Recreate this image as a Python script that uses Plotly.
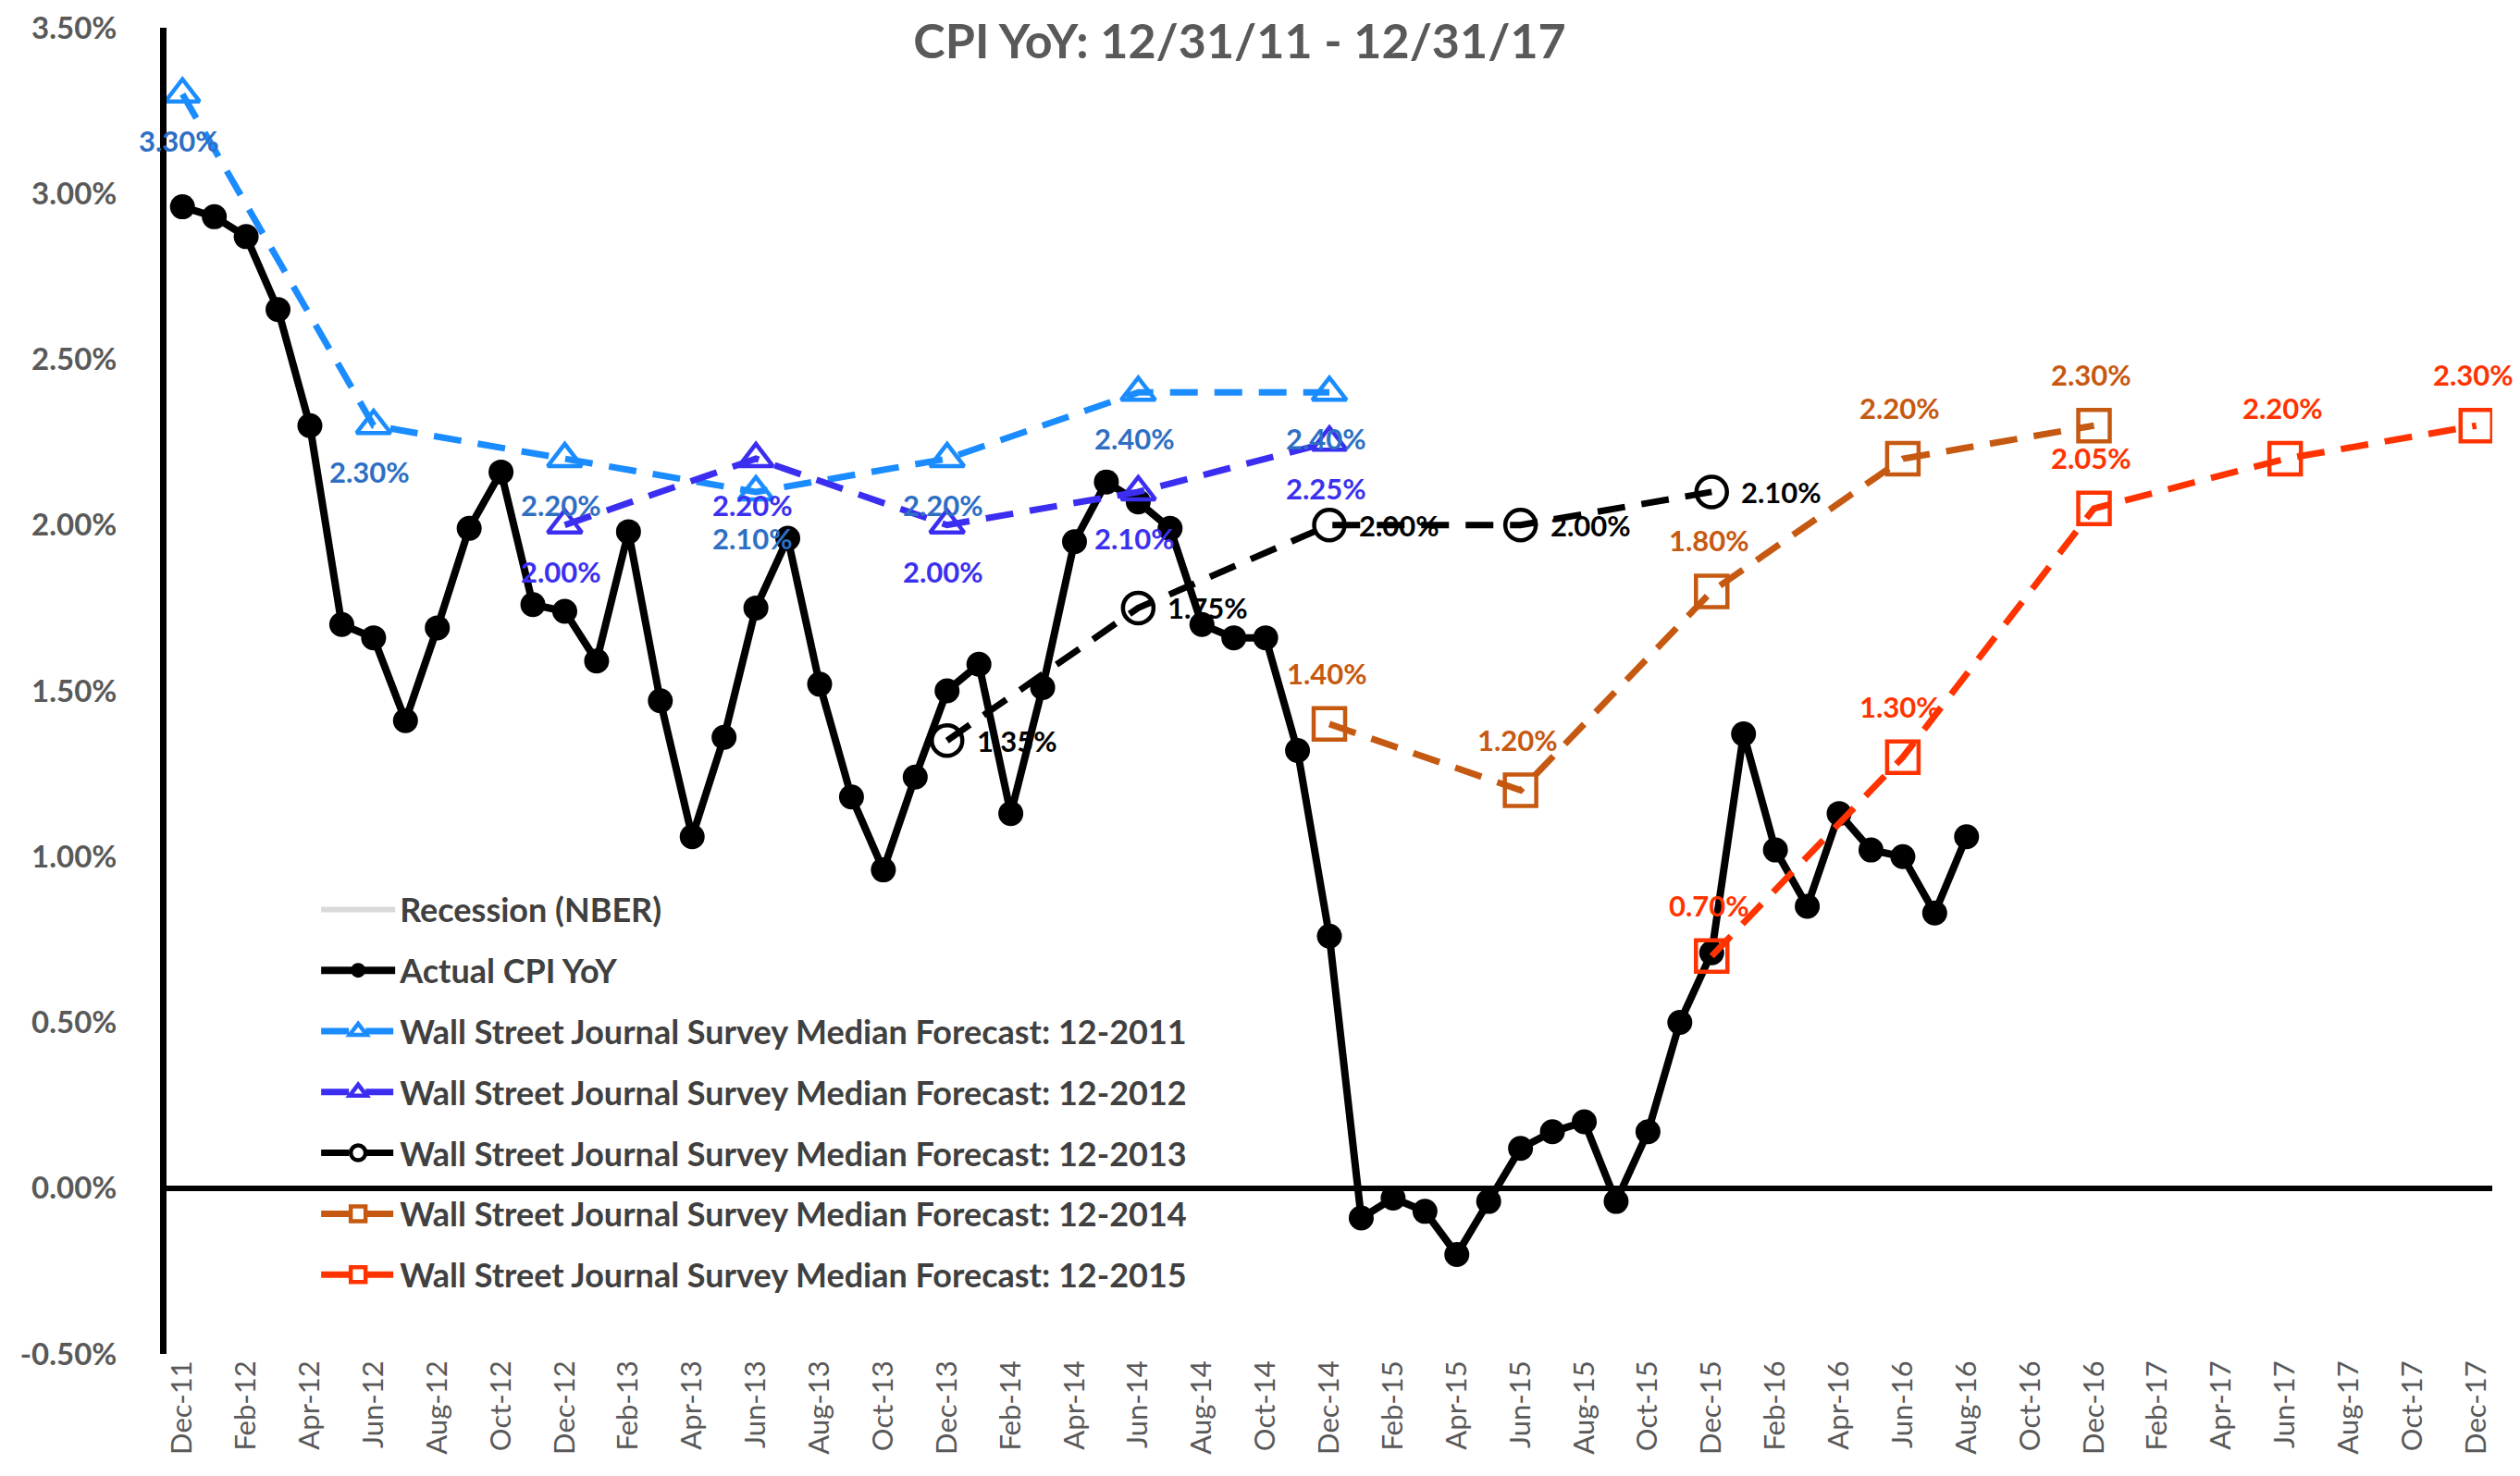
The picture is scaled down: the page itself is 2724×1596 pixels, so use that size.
import plotly.graph_objects as go

months = [
    "Dec-11",
    "Jan-12", "Feb-12", "Mar-12", "Apr-12", "May-12", "Jun-12",
    "Jul-12", "Aug-12", "Sep-12", "Oct-12", "Nov-12", "Dec-12",
    "Jan-13", "Feb-13", "Mar-13", "Apr-13", "May-13", "Jun-13",
    "Jul-13", "Aug-13", "Sep-13", "Oct-13", "Nov-13", "Dec-13",
    "Jan-14", "Feb-14", "Mar-14", "Apr-14", "May-14", "Jun-14",
    "Jul-14", "Aug-14", "Sep-14", "Oct-14", "Nov-14", "Dec-14",
    "Jan-15", "Feb-15", "Mar-15", "Apr-15", "May-15", "Jun-15",
    "Jul-15", "Aug-15", "Sep-15", "Oct-15", "Nov-15", "Dec-15",
    "Jan-16", "Feb-16", "Mar-16", "Apr-16", "May-16", "Jun-16",
    "Jul-16", "Aug-16", "Sep-16", "Oct-16", "Nov-16", "Dec-16",
    "Jan-17", "Feb-17", "Mar-17", "Apr-17", "May-17", "Jun-17",
    "Jul-17", "Aug-17", "Sep-17", "Oct-17", "Nov-17", "Dec-17",
]

# actual CPI YoY, Dec-11 .. Aug-16 (percent)
actual_cpi = [
    2.96,
    2.93, 2.87, 2.65, 2.30, 1.70, 1.66, 1.41, 1.69, 1.99, 2.16, 1.76, 1.74,
    1.59, 1.98, 1.47, 1.06, 1.36, 1.75, 1.96, 1.52, 1.18, 0.96, 1.24, 1.50,
    1.58, 1.13, 1.51, 1.95, 2.13, 2.07, 1.99, 1.70, 1.66, 1.66, 1.32, 0.76,
    -0.09, -0.03, -0.07, -0.20, -0.04, 0.12, 0.17, 0.20, -0.04, 0.17, 0.50, 0.71,
    1.37, 1.02, 0.85, 1.13, 1.02, 1.00, 0.83, 1.06,
]

wsj_2011_x = ["Dec-11", "Jun-12", "Dec-12", "Jun-13", "Dec-13", "Jun-14", "Dec-14"]
wsj_2011_y = [3.30, 2.30, 2.20, 2.10, 2.20, 2.40, 2.40]

wsj_2012_x = ["Dec-12", "Jun-13", "Dec-13", "Jun-14", "Dec-14"]
wsj_2012_y = [2.00, 2.20, 2.00, 2.10, 2.25]

wsj_2013_x = ["Dec-13", "Jun-14", "Dec-14", "Jun-15", "Dec-15"]
wsj_2013_y = [1.35, 1.75, 2.00, 2.00, 2.10]

wsj_2014_x = ["Dec-14", "Jun-15", "Dec-15", "Jun-16", "Dec-16"]
wsj_2014_y = [1.40, 1.20, 1.80, 2.20, 2.30]

wsj_2015_x = ["Dec-15", "Jun-16", "Dec-16", "Jun-17", "Dec-17"]
wsj_2015_y = [0.70, 1.30, 2.05, 2.20, 2.30]

y_ticks = [-0.5, 0.0, 0.5, 1.0, 1.5, 2.0, 2.5, 3.0, 3.5]

GRAY = "#595959"
FONT = "Lato"


def pct(vals):
    return ["%.2f%%" % v for v in vals]


fig = go.Figure()

# no recession in the window, only the legend entry
fig.add_trace(go.Scatter(
    x=[None], y=[None], name="Recession (NBER)", mode="none",
    fill="toself", fillcolor="#D9D9D9", legendgroup="g0",
))

fig.add_trace(go.Scatter(
    x=months[:len(actual_cpi)], y=actual_cpi, name="Actual CPI YoY",
    mode="lines+markers", legendgroup="g1",
    line=dict(color="black", width=8),
    marker=dict(symbol="circle", size=27, color="black"),
))

# name, x, y, line colour, label colour, symbol, size, label placement
forecasts = [
    ("Wall Street Journal Survey Median Forecast: 12-2011", wsj_2011_x, wsj_2011_y,
     "#1A8CFF", "#2E6FC4", "triangle-up-open", 32, "below"),
    ("Wall Street Journal Survey Median Forecast: 12-2012", wsj_2012_x, wsj_2012_y,
     "#3B2EF0", "#3B30F0", "triangle-up-open", 32, "below"),
    ("Wall Street Journal Survey Median Forecast: 12-2013", wsj_2013_x, wsj_2013_y,
     "black", "black", "circle-open", 33, "right"),
    ("Wall Street Journal Survey Median Forecast: 12-2014", wsj_2014_x, wsj_2014_y,
     "#C65911", "#C65911", "square-open", 34, "above"),
    ("Wall Street Journal Survey Median Forecast: 12-2015", wsj_2015_x, wsj_2015_y,
     "#FF3300", "#FF3300", "square-open", 34, "above"),
]

for i, (name, xs, ys, col, tcol, sym, msize, where) in enumerate(forecasts):
    fig.add_trace(go.Scatter(
        x=xs, y=ys, name=name, mode="lines+markers",
        legendgroup="g%d" % (i + 2),
        line=dict(color=col, width=7, dash="30px,18px"),
        marker=dict(symbol=sym, size=msize, color=col, line=dict(width=4.5, color=col)),
    ))
    for xv, yv, t in zip(xs, ys, pct(ys)):
        if where == "below":
            kw = dict(xanchor="center", yanchor="middle", xshift=-4, yshift=-50)
        elif where == "above":
            kw = dict(xanchor="center", yanchor="middle", xshift=-3, yshift=55)
        else:
            kw = dict(xanchor="left", yanchor="middle", xshift=30, yshift=0)
        fig.add_annotation(
            x=xv, y=yv, xref="x", yref="y", text="<b>%s</b>" % t, showarrow=False,
            font=dict(family=FONT, size=31, color=tcol), **kw,
        )

fig.update_layout(
    width=2724, height=1596,
    margin=dict(l=172, r=38, t=22, b=140),
    paper_bgcolor="white", plot_bgcolor="white",
    title=dict(
        text="<b>CPI YoY: 12/31/11 - 12/31/17</b>",
        x=0.489, xanchor="center", xref="container",
        y=0.977, yanchor="middle", yref="container",
        font=dict(family=FONT, size=52, color=GRAY),
    ),
    showlegend=True,
    legend=dict(
        x=0.0645, y=0.356, xanchor="left", yanchor="top",
        bgcolor="rgba(0,0,0,0)", tracegroupgap=16, itemwidth=80,
        font=dict(family=FONT, size=36, color="#404040", weight="bold"),
    ),
    xaxis=dict(
        type="category", categoryorder="array", categoryarray=months,
        range=[-0.5, len(months) - 0.5], automargin=False,
        tickvals=months[::2], ticktext=months[::2],
        tickangle=-90, showgrid=False, showline=False, zeroline=False,
        ticks="", tickfont=dict(family=FONT, size=31, color=GRAY),
    ),
    yaxis=dict(
        range=[-0.5, 3.5], tickvals=y_ticks, automargin=False,
        ticktext=pct(y_ticks),
        showgrid=False, showline=True, linecolor="black", linewidth=7,
        zeroline=True, zerolinecolor="black", zerolinewidth=6,
        ticks="", ticklabelstandoff=40,
        tickfont=dict(family=FONT, size=33, color=GRAY, weight="bold"),
    ),
)

fig.write_html("out.html")
